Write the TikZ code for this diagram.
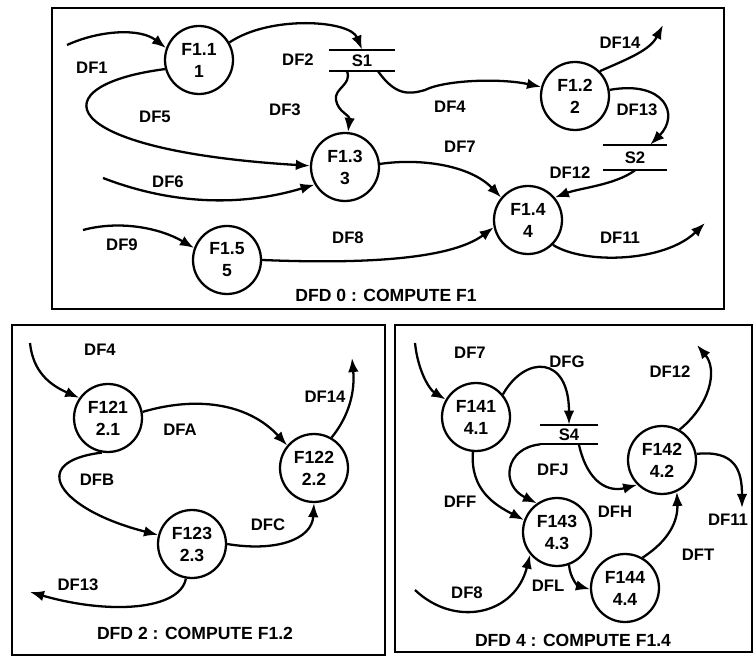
\documentclass[tikz,border=0pt]{standalone}
\usepackage{fontspec}
\setmainfont{Liberation Sans}
\usetikzlibrary{arrows.meta}
\tikzset{
  proc/.style={draw,circle,line width=1.3pt,minimum size=1.36cm,inner sep=0pt,
               align=center,font=\bfseries\fontsize{10}{12.5}\selectfont},
  store/.style={inner sep=0pt,minimum height=0.42cm,
                font=\bfseries\fontsize{9.5}{10}\selectfont},
  flow/.style={-{Latex[length=8pt,width=6pt]},line width=1.3pt},
  lbl/.style={font=\bfseries\fontsize{9.5}{10}\selectfont},
  frame/.style={line width=1.4pt},
  caption/.style={font=\bfseries\fontsize{10}{12}\selectfont}
}
\begin{document}
\begin{tikzpicture}[x=0.02cm,y=-0.02cm]
  \path[use as bounding box] (0,0) rectangle (754,658);
  % frames
  \draw[frame] (52,8) rectangle (724,309);
  \draw[frame] (12,325) rectangle (385,655);
  \draw[frame] (395,325) rectangle (752,652);

  % DFD 0
  \node[proc] (f11) at (199,60) {F1.1\\1};
  \node[proc] (f12) at (575,96) {F1.2\\2};
  \node[proc] (f13) at (345,167) {F1.3\\3};
  \node[proc] (f14) at (528,220) {F1.4\\4};
  \node[proc] (f15) at (227,260) {F1.5\\5};
  \node[store,minimum width=1.3cm] (s1) at (362,60.5) {S1};
  \node[store,minimum width=1.28cm,minimum height=0.5cm] (s2) at (635,157.5) {S2};
  \foreach \s in {s1,s2}
    \draw[line width=1.3pt] (\s.north west) -- (\s.north east)
                            (\s.south west) -- (\s.south east);
  \coordinate (df1s) at (67,45);
  \coordinate (df6s) at (103,178);
  \coordinate (df9s) at (83,230);
  \coordinate (df14e) at (663,25);
  \coordinate (df11e) at (705,223);

  \draw[flow] (df1s) .. controls (100,30) and (140,28) .. (f11.160);
  \draw[flow] (f11.30) .. controls (270,15) and (350,20) .. (s1.north);
  \draw[flow] (f11.195) .. controls (40,85) and (50,150) .. (f13.178);
  \draw[flow] (s1.216) .. controls (352,85) and (334,88) .. (336,100)
                       .. controls (338,112) and (350,115) .. (f13.85);
  \draw[flow] (df6s) .. controls (160,200) and (230,210) .. (f13.210);
  \draw[flow] (df9s) .. controls (120,220) and (160,228) .. (f15.160);
  \draw[flow] (f15.0) .. controls (360,264) and (450,260) .. (f14.192);
  \draw[flow] (f13.5) .. controls (420,158) and (470,165) .. (f14.140);
  \draw[flow] (s1.-34) .. controls (395,95) and (408,95) .. (425,90)
                       .. controls (445,80) and (500,78) .. (f12.165);
  \draw[flow] (f12.45) .. controls (630,58) and (650,50) .. (df14e);
  \draw[flow] (f12.10) .. controls (665,80) and (680,115) .. (s2.40);
  \draw[flow] (s2.south) .. controls (615,185) and (580,188) .. (f14.40);
  \draw[flow] (f14.-45) .. controls (585,265) and (665,262) .. (df11e);

  \node[lbl] (l1) at (92,68) {DF1};
  \node[lbl] (l2) at (298,60) {DF2};
  \node[lbl] (l5) at (155,117) {DF5};
  \node[lbl] (l3) at (285,110) {DF3};
  \node[lbl] (l6) at (168,182) {DF6};
  \node[lbl] (l9) at (122,245) {DF9};
  \node[lbl] (l8) at (348,238) {DF8};
  \node[lbl] (l7) at (460,147) {DF7};
  \node[lbl] (l4) at (450,107) {DF4};
  \node[lbl] (l14) at (620,43) {DF14};
  \node[lbl] (l13) at (637,110) {DF13};
  \node[lbl] (l12) at (570,173) {DF12};
  \node[lbl] (l11) at (620,238) {DF11};
  \node[caption] (cap0) at (386,295) {DFD 0 : COMPUTE F1};

  % DFD 2
  \node[proc] (f121) at (108,418) {F121\\2.1};
  \node[proc] (f122) at (314,468) {F122\\2.2};
  \node[proc] (f123) at (192,544) {F123\\2.3};
  \coordinate (df4s) at (30,343);
  \coordinate (d2f14e) at (352,358);
  \coordinate (d2f13e) at (30,592);

  \draw[flow] (df4s) .. controls (33,372) and (50,385) .. (f121.145);
  \draw[flow] (f121.10) .. controls (200,395) and (250,405) .. (f122.140);
  \draw[flow] (f121.260) .. controls (25,462) and (60,510) .. (f123.165);
  \draw[flow] (f123.0) .. controls (275,552) and (312,540) .. (f122.270);
  \draw[flow] (f122.60) .. controls (350,415) and (355,390) .. (d2f14e);
  \draw[flow] (f123.260) .. controls (180,610) and (110,615) .. (d2f13e);

  \node[lbl] (m4) at (100,350) {DF4};
  \node[lbl] (ma) at (180,430) {DFA};
  \node[lbl] (mb) at (97,480) {DFB};
  \node[lbl] (mc) at (268,525) {DFC};
  \node[lbl] (m14) at (325,397) {DF14};
  \node[lbl] (m13) at (78,585) {DF13};
  \node[caption] (cap2) at (195,633) {DFD 2 : COMPUTE F1.2};

  % DFD 4
  \node[proc] (f141) at (476,417) {F141\\4.1};
  \node[proc] (f142) at (662,460) {F142\\4.2};
  \node[proc] (f143) at (557,532) {F143\\4.3};
  \node[proc] (f144) at (625,588) {F144\\4.4};
  \node[store,minimum width=1.14cm,minimum height=0.38cm] (s4) at (569,434.5) {S4};
  \draw[line width=1.3pt] (s4.north west) -- (s4.north east)
                          (s4.south west) -- (s4.south east);
  \coordinate (df7s) at (415,343);
  \coordinate (df8s) at (415,590);
  \coordinate (d4f12e) at (697,345);
  \coordinate (d4f11e) at (742,508);

  \draw[flow] (df7s) .. controls (418,372) and (430,390) .. (f141.150);
  \draw[flow] (f141.40) .. controls (525,355) and (569,355) .. (s4.north);
  \draw[flow] (s4.south west) .. controls (505,448) and (500,485) .. (f143.125);
  \draw[flow] (s4.-45) .. controls (588,485) and (610,492) .. (f142.225);
  \draw[flow] (f141.265) .. controls (470,490) and (495,505) .. (f143.160);
  \draw[flow] (df8s) .. controls (455,628) and (515,615) .. (f143.220);
  \draw[flow] (f143.-70) .. controls (570,578) and (578,586) .. (f144.182);
  \draw[flow] (f144.60) .. controls (670,540) and (678,520) .. (f142.-65);
  \draw[flow] (f142.60) .. controls (710,405) and (718,370) .. (d4f12e);
  \draw[flow] (f142.10) .. controls (735,450) and (742,470) .. (d4f11e);

  \node[lbl] (n7) at (470,353) {DF7};
  \node[lbl] (ng) at (567,362) {DFG};
  \node[lbl] (n12) at (670,372) {DF12};
  \node[lbl] (nj) at (553,470) {DFJ};
  \node[lbl] (nf) at (460,502) {DFF};
  \node[lbl] (nh) at (615,512) {DFH};
  \node[lbl] (n11) at (728,520) {DF11};
  \node[lbl] (nt) at (698,555) {DFT};
  \node[lbl] (nl) at (548,586) {DFL};
  \node[lbl] (n8) at (467,593) {DF8};
  \node[caption] (cap4) at (573,640) {DFD 4 : COMPUTE F1.4};
\end{tikzpicture}
\end{document}
